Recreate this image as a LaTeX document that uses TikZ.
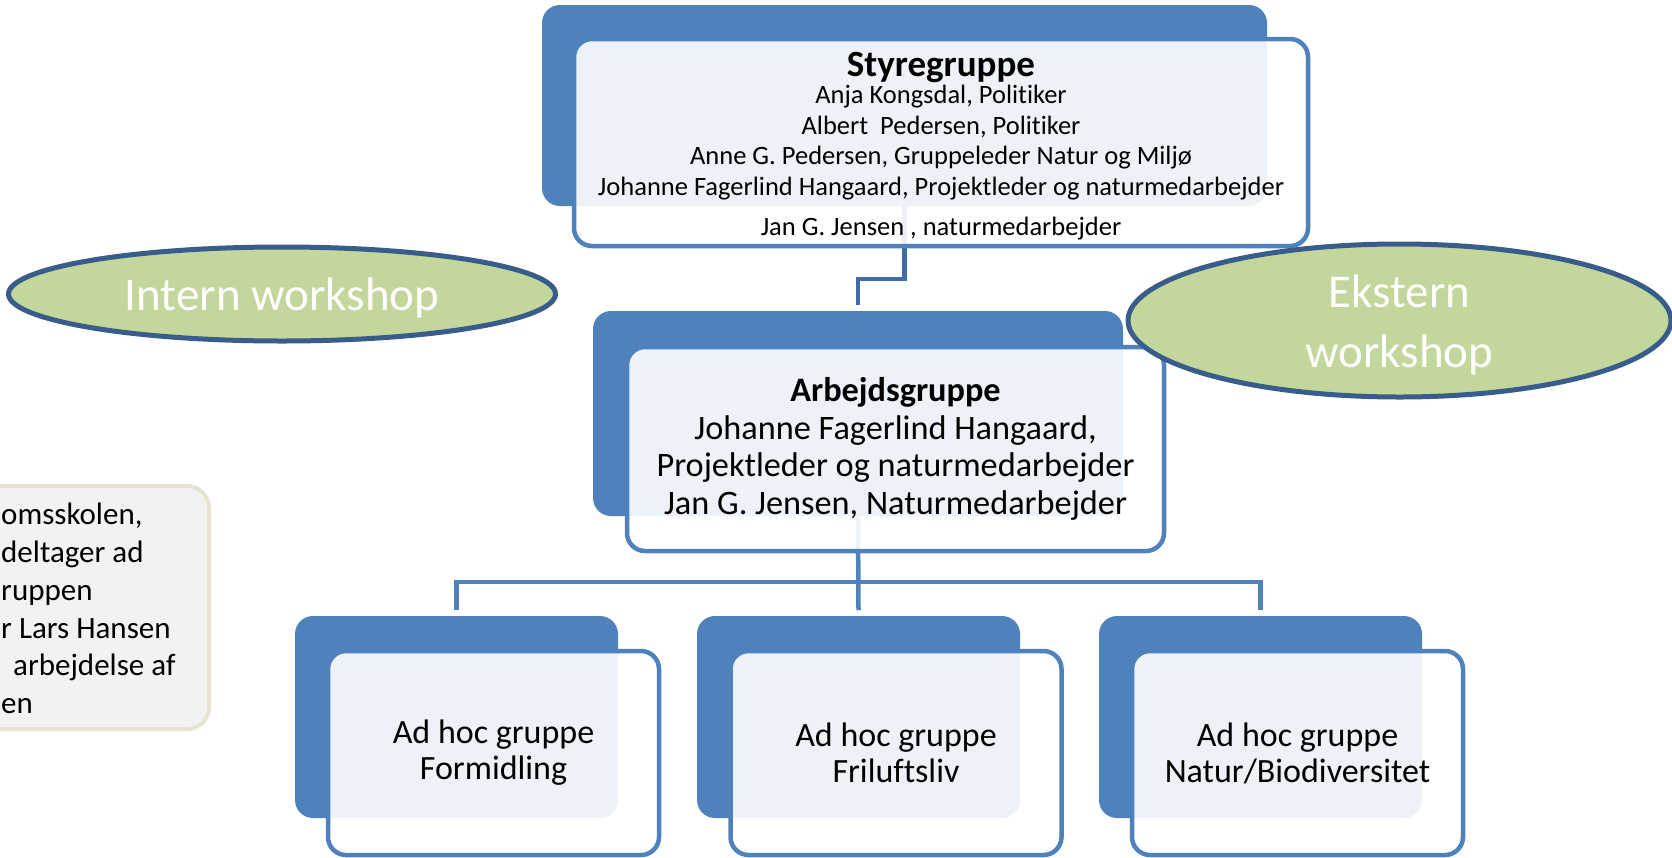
\documentclass[tikz,border=0pt]{standalone}
\usepackage{fontspec}
\setmainfont{Carlito}[Ligatures=NoCommon]
\usetikzlibrary{shapes.geometric,calc}
\definecolor{accent}{HTML}{4F81BD}
\definecolor{conndark}{HTML}{3F6CA6}
\definecolor{ellfill}{HTML}{C3D69B}
\definecolor{elldraw}{HTML}{385D8A}
\definecolor{notefill}{HTML}{F2F2F2}
\definecolor{notedraw}{HTML}{E6E3D3}
\tikzset{
  backbox/.style={rectangle, fill=accent, rounded corners=18pt, inner sep=0pt, outer sep=0pt},
  frontbox/.style={rectangle, draw=accent, line width=4.5pt, fill=white, fill opacity=0.9, text opacity=1,
    rounded corners=18pt, inner sep=0pt, outer sep=0pt, align=center, text=black},
  boxtext/.style={align=center, text=black, inner sep=0pt},
  workshop/.style={ellipse, draw=elldraw, line width=5pt, fill=ellfill, inner sep=0pt},
  wstext/.style={text=white, align=center, inner sep=0pt, font=\fontsize{47}{60}\selectfont},
  notebox/.style={rectangle, draw=notedraw, line width=4pt, fill=notefill, rounded corners=22pt, inner sep=0pt},
  conn/.style={draw=accent, line width=4.5pt, line join=miter},
  conntop/.style={draw=conndark, line width=4.5pt, line join=miter},
}
\begin{document}
\begin{tikzpicture}[x=1pt,y=-1pt]
\useasboundingbox (0,0) rectangle (1672,857);
\node[backbox, minimum width=725pt, minimum height=201pt, fill=none] (sgback) at (904.5,105.5) {};
\node[backbox, minimum width=530pt, minimum height=205pt, fill=none] (agback) at (858,413.5) {};
\node[backbox, minimum width=323pt, minimum height=202pt, fill=none] (fback) at (456.5,717) {};
\node[backbox, minimum width=323pt, minimum height=202pt, fill=none] (lback) at (858.5,717) {};
\node[backbox, minimum width=323pt, minimum height=202pt, fill=none] (nback) at (1260.5,717) {};

\draw[conntop] (sgback.south) -- ++(0,73) -| ([yshift=6pt]agback.north);
\draw[conn] (agback.south) -- ([yshift=6pt]lback.north);
\draw[conn] ([yshift=6pt]fback.north) |- ($(agback.south)+(0,66)$) -| ([yshift=6pt]nback.north);

\foreach \n in {sgback,agback,fback,lback,nback}
  \fill[accent, rounded corners=18pt] (\n.north west) rectangle (\n.south east);

\node[frontbox, minimum width=734pt, minimum height=207pt,
      label={[boxtext, yshift=-3.5pt, font=\fontsize{26.5}{30.5}\selectfont]center:%
   {\fontsize{37}{30.5}\selectfont\bfseries Styregruppe}\\[-3pt]
   Anja Kongsdal, Politiker\\
   Albert\ \ Pedersen, Politiker\\
   Anne G. Pedersen, Gruppeleder Natur og Miljø\\
   Johanne Fagerlind Hangaard, Projektleder og naturmedarbejder\\[10pt]
   Jan G. Jensen , naturmedarbejder}] (sg) at (941,142.5) {};
\node[frontbox, minimum width=537pt, minimum height=204pt,
      font=\fontsize{34.3}{37.5}\selectfont] (ag) at (895.5,449)
  {{\bfseries Arbejdsgruppe}\\
   Johanne Fagerlind Hangaard,\\
   Projektleder og naturmedarbejder\\
   Jan G. Jensen, Naturmedarbejder};
\node[frontbox, minimum width=331pt, minimum height=204pt,
      font=\fontsize{34}{36}\selectfont] (f) at (493.5,753)
  {Ad hoc gruppe\\Formidling};
\node[frontbox, minimum width=331pt, minimum height=204pt,
      font=\fontsize{34}{36}\selectfont] (l) at (896,753)
  {Ad hoc gruppe\\Friluftsliv};
\node[frontbox, minimum width=331pt, minimum height=204pt,
      font=\fontsize{34}{36}\selectfont] (n) at (1297.5,753)
  {Ad hoc gruppe\\Natur/Biodiversitet};

\node[workshop, minimum width=547pt, minimum height=94pt,
      label={[wstext, yshift=-4pt]center:Intern workshop}] (intern) at (282,294) {};
\node[workshop, minimum width=543pt, minimum height=153pt,
      label={[wstext, yshift=-4.5pt]center:Ekstern\\workshop}] (ekstern) at (1399.5,320.5) {};

\node[notebox, minimum width=249pt, minimum height=243pt] (note) at (84.5,607.5) {};
\node[anchor=north west, align=left, inner sep=0pt, font=\fontsize{31}{37.8}\selectfont] (notetext) at (1,503)
  {omsskolen,\\deltager ad\\ruppen\\r Lars Hansen\\\hspace*{12pt}arbejdelse af\\en};
\end{tikzpicture}
\end{document}
